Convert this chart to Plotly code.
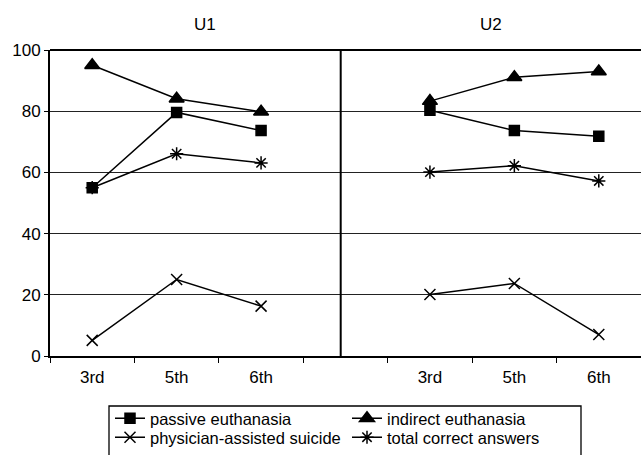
import plotly.graph_objects as go

# Category slots: three school years per university, with an empty slot between them
slots = ["U1 3rd", "U1 5th", "U1 6th", "gap", "U2 3rd", "U2 5th", "U2 6th"]
slot_labels = ["3rd", "5th", "6th", "", "3rd", "5th", "6th"]

passive = [55.0, 79.6, 73.7, None, 80.3, 73.7, 71.8]
indirect = [95.0, 84.1, 79.8, None, 83.3, 91.1, 93.0]
physician = [5.1, 25.0, 16.3, None, 20.1, 23.7, 7.0]
total = [55.0, 66.1, 63.1, None, 60.1, 62.2, 57.2]

# (name, values, marker symbol, marker size, legend row)
series = [
    ("passive euthanasia", passive, "square", 10, "legend"),
    ("indirect euthanasia", indirect, "triangle-up", 13, "legend"),
    ("physician-assisted suicide", physician, "x-thin-open", 11, "legend2"),
    ("total correct answers", total, "asterisk-open", 11, "legend2"),
]

fig = go.Figure()
for name, vals, sym, size, leg in series:
    fig.add_trace(go.Scatter(
        x=slots, y=vals, name=name, mode="lines+markers",
        connectgaps=False, legend=leg,
        line=dict(color="black", width=1.5),
        marker=dict(symbol=sym, size=size, color="black",
                    line=dict(color="black", width=1.5)),
    ))

family = "Liberation Sans, Arial, sans-serif"
font = dict(family=family, size=17, color="black")
legend_font = dict(family=family, size=16.5, color="black")

W, H = 641, 455
top, bottom, left = 50, 356, 50
plot_h = bottom - top
plot_w = W - left
title_y = 1 + (top - 24) / plot_h

def px_x(x):
    return (x - left) / plot_w

def px_y(y):
    return (bottom - y) / plot_h

legend_common = dict(
    orientation="h", xref="container", yref="container",
    xanchor="left", yanchor="top", borderwidth=0,
    bgcolor="rgba(0,0,0,0)", font=legend_font, traceorder="normal",
    entrywidth=192, entrywidthmode="pixels",
)

fig.update_layout(
    width=W, height=H,
    margin=dict(l=left, r=0, t=top, b=H - bottom),
    paper_bgcolor="white", plot_bgcolor="white",
    font=font,
    showlegend=True,
    legend=dict(x=110 / W, y=1 - 401 / H, **legend_common),
    legend2=dict(x=110 / W, y=1 - 420 / H, **legend_common),
    xaxis=dict(
        type="category", categoryorder="array", categoryarray=slots,
        tickvals=slots, ticktext=slot_labels,
        tickson="boundaries", ticks="outside", ticklen=5, tickwidth=1,
        tickcolor="black", ticklabelstandoff=5,
        showline=True, linecolor="black", linewidth=2,
        showgrid=False, zeroline=False,
        range=[-0.5, 6.5], fixedrange=True,
    ),
    yaxis=dict(
        range=[0, 100], tickvals=[0, 20, 40, 60, 80, 100],
        ticks="outside", ticklen=4, tickcolor="black",
        showline=True, linecolor="black", linewidth=2,
        showgrid=True, gridcolor="#222222", gridwidth=1.3,
        zeroline=False,
    ),
    annotations=[
        dict(text="U1", xref="paper", yref="paper",
             x=px_x(205), y=title_y, showarrow=False,
             xanchor="center", yanchor="middle", font=font),
        dict(text="U2", xref="paper", yref="paper",
             x=px_x(491), y=title_y, showarrow=False,
             xanchor="center", yanchor="middle", font=font),
    ],
    shapes=[
        # divider between the two universities
        dict(type="line", xref="paper", yref="paper",
             x0=px_x(340.7), x1=px_x(340.7), y0=0, y1=1,
             line=dict(color="black", width=2)),
        # top frame line
        dict(type="line", xref="paper", yref="paper",
             x0=0, x1=1, y0=1, y1=1,
             line=dict(color="black", width=2)),
        # legend frame
        dict(type="rect", xref="paper", yref="paper",
             x0=px_x(109), x1=px_x(581), y0=px_y(406), y1=px_y(470),
             line=dict(color="black", width=1.3)),
    ],
)

fig.write_html("out.html")
